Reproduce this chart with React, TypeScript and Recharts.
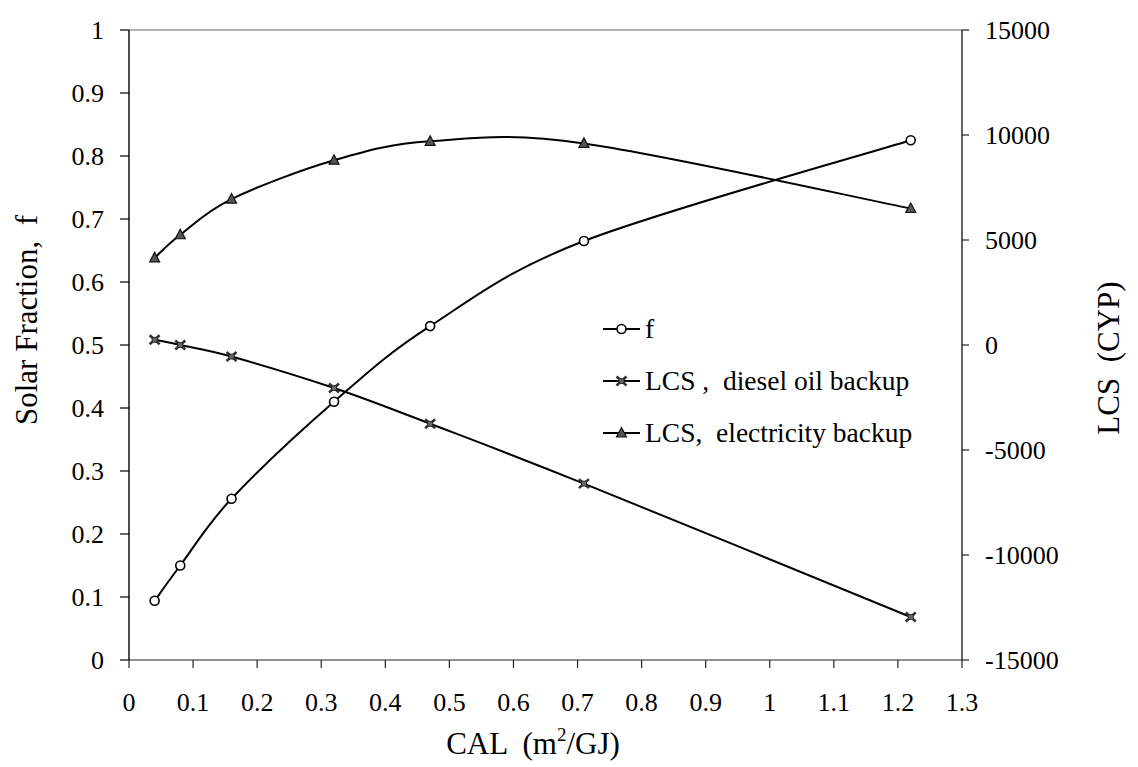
import React from 'react';
import { ComposedChart, Line, XAxis, YAxis, Legend, ReferenceLine } from 'recharts';

// ---------- data ----------
const CAL = [0.04, 0.08, 0.16, 0.32, 0.47, 0.71, 1.22];
const SOLAR_FRACTION = [0.094, 0.15, 0.256, 0.41, 0.53, 0.665, 0.825];
const LCS_DIESEL = [250, 0, -550, -2050, -3750, -6600, -12950];
const LCS_ELECTRIC = [4150, 5250, 6950, 8800, 9700, 9600, 6500];

const X_TICKS = [0, 0.1, 0.2, 0.3, 0.4, 0.5, 0.6, 0.7, 0.8, 0.9, 1, 1.1, 1.2, 1.3];
const LEFT_TICKS = [0, 0.1, 0.2, 0.3, 0.4, 0.5, 0.6, 0.7, 0.8, 0.9, 1];
const RIGHT_TICKS = [-15000, -10000, -5000, 0, 5000, 10000, 15000];

const SERIES_NAMES = ['f', 'LCS ,  diesel oil backup', 'LCS,  electricity backup'];
const X_TITLE = ['CAL  (m', '2', '/GJ)'];
const LEFT_TITLE = 'Solar Fraction,  f';
const RIGHT_TITLE = 'LCS  (CYP)';

const data = CAL.map((cal, i) => ({
  cal,
  f: SOLAR_FRACTION[i],
  diesel: LCS_DIESEL[i],
  elec: LCS_ELECTRIC[i],
}));

const FONT = 'Liberation Serif, Times New Roman, Times, serif';
const FS = 26;
const TITLE_FS = 31;
const LEGEND_FS = 27.5;

// Excel-like smooth curve (Catmull-Rom as cubic Bezier)
function smoothCurve(context: any) {
  let pts: number[][] = [];
  return {
    areaStart() {},
    areaEnd() {},
    lineStart() {
      pts = [];
    },
    point(x: number, y: number) {
      pts.push([+x, +y]);
    },
    lineEnd() {
      const n = pts.length;
      if (!n) return;
      context.moveTo(pts[0][0], pts[0][1]);
      for (let i = 0; i < n - 1; i++) {
        const p0 = pts[i - 1] || pts[i];
        const p1 = pts[i];
        const p2 = pts[i + 1];
        const p3 = pts[i + 2] || p2;
        context.bezierCurveTo(
          p1[0] + (p2[0] - p0[0]) / 6,
          p1[1] + (p2[1] - p0[1]) / 6,
          p2[0] - (p3[0] - p1[0]) / 6,
          p2[1] - (p3[1] - p1[1]) / 6,
          p2[0],
          p2[1]
        );
      }
    },
  };
}

const circleMark = (cx: number, cy: number, key?: any) => (
  <circle key={key} cx={cx} cy={cy} r={4.5} fill="#fff" stroke="#000" strokeWidth={1.6} />
);
const crossMark = (cx: number, cy: number, key?: any) => (
  <g key={key}>
    <path
      d={`M${cx - 5},${cy - 4.5}L${cx + 5},${cy + 4.5}M${cx - 5},${cy + 4.5}L${cx + 5},${cy - 4.5}`}
      stroke="#333"
      strokeWidth={2.6}
    />
    <rect x={cx - 2.5} y={cy - 2.5} width={5} height={5} fill="#666" stroke="#222" strokeWidth={0.8} />
  </g>
);
const triMark = (cx: number, cy: number, key?: any) => (
  <path
    key={key}
    d={`M${cx},${cy - 5.5}L${cx + 5},${cy + 4}L${cx - 5},${cy + 4}Z`}
    fill="#555"
    stroke="#111"
    strokeWidth={1.2}
  />
);

const makeDot = (fn: any) => (props: any) => {
  const { cx, cy, index } = props;
  if (cx == null || cy == null) return <g key={`d${index}`} />;
  return fn(cx, cy, `d${index}`);
};

const MARKS: Record<string, any> = { f: circleMark, diesel: crossMark, elec: triMark };

const renderLegend = (props: any) => {
  const payload = [...(props.payload || [])].sort(
    (a: any, b: any) => SERIES_NAMES.indexOf(a.value) - SERIES_NAMES.indexOf(b.value)
  );
  return (
    <div style={{ fontFamily: FONT, fontSize: LEGEND_FS, color: '#000' }}>
      {payload.map((p: any, i: number) => (
        <div key={i} style={{ display: 'flex', alignItems: 'center', height: 52 }}>
          <svg width={37} height={20} style={{ overflow: 'visible' }}>
            <line x1={0} y1={10} x2={37} y2={10} stroke="#000" strokeWidth={2} />
            {MARKS[p.dataKey](18.5, 10)}
          </svg>
          <span style={{ whiteSpace: 'pre', marginLeft: 5, lineHeight: 1 }}>{p.value}</span>
        </div>
      ))}
    </div>
  );
};

const tickStyle = { fontFamily: FONT, fontSize: FS, fill: '#000' };

export default function App() {
  return (
    <div style={{ width: 1122, height: 759, background: '#fff' }}>
      <ComposedChart
        width={1122}
        height={759}
        data={data}
        margin={{ top: 22, right: 88, bottom: 47, left: 61 }}
      >
        <XAxis
          dataKey="cal"
          type="number"
          domain={[0, 1.3]}
          ticks={X_TICKS}
          tickFormatter={(v: number) => String(Number(v.toFixed(1)))}
          interval={0}
          height={60}
          tickSize={8}
          tickMargin={25}
          tick={tickStyle}
          axisLine={{ stroke: '#222', strokeWidth: 1.2 }}
          tickLine={{ stroke: '#222', strokeWidth: 1.2 }}
          allowDataOverflow
          label={{
            content: () => (
              <text x={525} y={746} textAnchor="middle" fontFamily={FONT} fontSize={TITLE_FS} fill="#000">
                <tspan style={{ whiteSpace: 'pre' }}>{X_TITLE[0]}</tspan>
                <tspan dy={-13} fontSize={19}>{X_TITLE[1]}</tspan>
                <tspan dy={13}>{X_TITLE[2]}</tspan>
              </text>
            ),
          }}
        />
        <YAxis
          yAxisId="left"
          domain={[0, 1]}
          ticks={LEFT_TICKS}
          interval={0}
          width={60}
          tickSize={9}
          tickMargin={16}
          tickFormatter={(v: number) => String(Number(v.toFixed(1)))}
          tick={tickStyle}
          axisLine={{ stroke: '#000', strokeWidth: 1.4 }}
          tickLine={{ stroke: '#000', strokeWidth: 1.2 }}
          allowDataOverflow
          label={{
            content: () => (
              <text
                x={18}
                y={312}
                transform="rotate(-90 18 312)"
                textAnchor="middle"
                dominantBaseline="central"
                fontFamily={FONT}
                fontSize={TITLE_FS}
                fill="#000"
                style={{ whiteSpace: 'pre' }}
              >
                {LEFT_TITLE}
              </text>
            ),
          }}
        />
        <YAxis
          yAxisId="right"
          orientation="right"
          domain={[-15000, 15000]}
          ticks={RIGHT_TICKS}
          interval={0}
          width={80}
          tickSize={7}
          tickMargin={16}
          tick={tickStyle}
          axisLine={{ stroke: '#222', strokeWidth: 1.4 }}
          tickLine={{ stroke: '#222', strokeWidth: 1.2 }}
          allowDataOverflow
          label={{
            content: () => (
              <text
                x={1100}
                y={350}
                transform="rotate(-90 1100 350)"
                textAnchor="middle"
                dominantBaseline="central"
                fontFamily={FONT}
                fontSize={TITLE_FS}
                fill="#000"
                style={{ whiteSpace: 'pre' }}
              >
                {RIGHT_TITLE}
              </text>
            ),
          }}
        />
        <ReferenceLine yAxisId="left" y={1} stroke="#666" strokeWidth={1.2} />
        <Legend
          layout="vertical"
          align="center"
          verticalAlign="middle"
          content={renderLegend}
          wrapperStyle={{ position: 'absolute', left: 595, top: 295, width: 'auto' }}
        />
        <Line
          yAxisId="left"
          dataKey="f"
          name={SERIES_NAMES[0]}
          type={smoothCurve as any}
          stroke="#000"
          strokeWidth={2}
          dot={makeDot(circleMark)}
          isAnimationActive={false}
        />
        <Line
          yAxisId="right"
          dataKey="diesel"
          name={SERIES_NAMES[1]}
          type={smoothCurve as any}
          stroke="#000"
          strokeWidth={2}
          dot={makeDot(crossMark)}
          isAnimationActive={false}
        />
        <Line
          yAxisId="right"
          dataKey="elec"
          name={SERIES_NAMES[2]}
          type={smoothCurve as any}
          stroke="#000"
          strokeWidth={2}
          dot={makeDot(triMark)}
          isAnimationActive={false}
        />
      </ComposedChart>
    </div>
  );
}
